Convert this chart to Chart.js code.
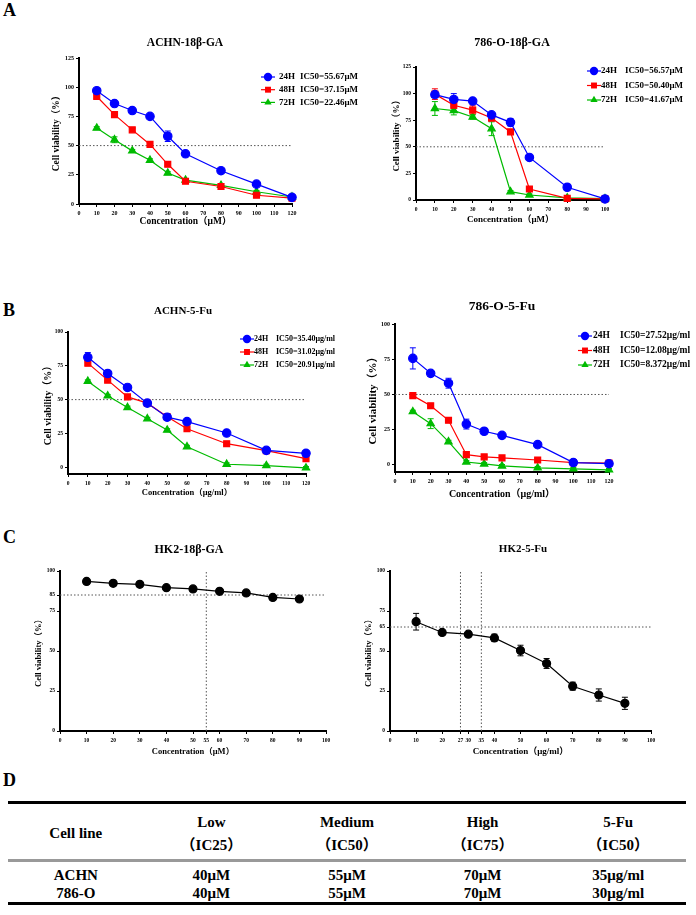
<!DOCTYPE html>
<html>
<head>
<meta charset="utf-8">
<script src="https://cdn.jsdelivr.net/npm/chart.js@4.4.1/dist/chart.umd.min.js"></script>
<style>
body { margin:0; background:#fff; width:696px; height:915px; position:relative; overflow:hidden;
       font-family:'Liberation Serif','Noto Sans CJK SC',serif; color:#000; }
canvas { position:absolute; }
.panel { position:absolute; font-weight:bold; font-size:18px; line-height:18px; }
.cell { position:absolute; width:200px; text-align:center; font-weight:bold; font-size:15px; line-height:20px; white-space:nowrap; }
.rule { position:absolute; left:8px; width:678px; }
</style>
</head>
<body>
<div class="panel" style="left:3px;top:1px">A</div>
<div class="panel" style="left:3px;top:301px">B</div>
<div class="panel" style="left:3px;top:528px">C</div>
<div class="panel" style="left:3px;top:771px">D</div>

<script>
var FONT = "'Liberation Serif','Noto Sans CJK SC',serif";

// series look
var hours = ['24H', '48H', '72H'];
var seriesColors = ['#0000FF', '#FF0000', '#00BB00'];
var seriesShapes = ['circle', 'rect', 'triangle'];

// A - 18β-GA, ACHN
var concAchnGA = [10, 20, 30, 40, 50, 60, 80, 100, 120];
var achnGA24 = [97, 86, 80, 75, 58, 43, 28.5, 17, 5.7];
var achnGA48 = [92, 76.5, 63.5, 51, 34, 19.5, 15, 7.5, 5];
var achnGA72 = [65, 55, 45.5, 37.5, 26.5, 20.5, 16, 10.5, 6];
var achnGA24sd = [1.5, 1.2, 1.2, 1.2, 4.5, 1, 1.8, 1, 0.8];
var achnGA48sd = [1.5, 1.2, 1.5, 1.5, 1.5, 1.5, 1.5, 1, 0.8];
var achnGA72sd = [1.2, 2.5, 1.2, 1.2, 1.2, 1, 1, 1, 0.8];
var achnGAic50 = ['55.67μM', '37.15μM', '22.46μM'];

// A - 18β-GA, 786-O
var conc786GA = [10, 20, 30, 40, 50, 60, 80, 100];
var o786GA24 = [99, 94.5, 93, 80, 73, 40, 12, 1];
var o786GA48 = [99.5, 89, 84.5, 77, 64, 10.3, 1.5, 1];
var o786GA72 = [86, 84, 78, 67, 7.8, 4.7, 2, 1.2];
var o786GA24sd = [2.5, 5.5, 1.2, 1.5, 3.5, 1, 1, 1];
var o786GA48sd = [5, 3, 4, 2, 1.5, 1.5, 1, 1];
var o786GA72sd = [6.5, 4, 2, 6.5, 1, 1, 1, 1];
var o786GAic50 = ['56.57μM', '50.40μM', '41.67μM'];

// B - 5-Fu, ACHN
var concAchnFu = [10, 20, 30, 40, 50, 60, 80, 100, 120];
var achnFu24 = [81.3, 69.3, 59, 47.4, 37, 33.7, 25.3, 12.5, 10.3];
var achnFu48 = [77, 64.4, 52, 47.4, 37.3, 28.5, 17.4, 12.3, 6.4];
var achnFu72 = [63.6, 52.8, 44.2, 35.9, 27.5, 15.2, 2.2, 1.2, -0.5];
var achnFu24sd = [3.5, 1.2, 1.2, 1, 1, 2, 1, 1, 1];
var achnFu48sd = [2, 1.2, 1.5, 1, 1, 1, 1, 1, 1];
var achnFu72sd = [1, 1, 1, 1, 1, 1, 1, 1, 1];
var achnFuic50 = ['35.40μg/ml', '31.02μg/ml', '20.91μg/ml'];

// B - 5-Fu, 786-O
var conc786Fu = [10, 20, 30, 40, 50, 60, 80, 100, 120];
var o786Fu24 = [75.6, 65, 58, 29, 23.9, 21, 14.4, 1.7, 0.9];
var o786Fu48 = [49.2, 42, 31.7, 7.3, 5.7, 5, 3.5, 1.7, 1.4];
var o786Fu72 = [37.8, 29.3, 16.5, 2.1, 0.7, -0.7, -2.1, -2.8, -3.5];
var o786Fu24sd = [7.5, 2, 3.5, 3.5, 1, 1, 1, 1, 1];
var o786Fu48sd = [1, 1, 1, 1, 1, 1, 1, 1, 1];
var o786Fu72sd = [1, 3.5, 1, 1, 1, 1, 1, 1, 1];
var o786Fuic50 = ['27.52μg/ml', '12.08μg/ml', '8.372μg/ml'];

// C - HK2
var concHK2 = [10, 20, 30, 40, 50, 60, 70, 80, 90];
var hk2GA = [93.5, 92.3, 91.7, 89.6, 88.8, 87.3, 86.3, 83.5, 82.5];
var hk2GAsd = [0.8, 0.8, 0.8, 0.8, 0.8, 0.8, 0.8, 0.8, 0.8];
var hk2Fu = [68.3, 61.6, 60.5, 58.2, 50.3, 42.2, 28, 22.5, 17.3];
var hk2Fusd = [5.2, 1, 1, 2.3, 3.3, 3.1, 2.5, 3.8, 3.8];

// tick labels
var ticks0to120 = [0, 10, 20, 30, 40, 50, 60, 70, 80, 90, 100, 110, 120];
var ticks0to100 = [0, 10, 20, 30, 40, 50, 60, 70, 80, 90, 100];
var ticksY125 = [0, 25, 50, 75, 100, 125];
var ticksY100 = [0, 25, 50, 75, 100];
var ticksXhk2GA = [0, 10, 20, 30, 40, 50, 55, 60, 70, 80, 90, 100];
var ticksYhk2GA = [0, 25, 50, 75, 85, 100];
var ticksXhk2Fu = [0, 10, 20, 27, 30, 35, 40, 50, 60, 70, 80, 90, 100];
var ticksYhk2Fu = [0, 25, 50, 65, 75, 100];

// table D
var tableHead = [['Cell line'], ['Low', '（IC25）'], ['Medium', '（IC50）'], ['High', '（IC75）'], ['5-Fu', '（IC50）']];
var cellLines = ['ACHN', '786-O'];
var lowDose = ['40μM', '40μM'];
var mediumDose = ['55μM', '55μM'];
var highDose = ['70μM', '70μM'];
var fuDose = ['35μg/ml', '30μg/ml'];

function drawMarker(ctx, shape, x, y, r, color) {
  ctx.fillStyle = color;
  ctx.beginPath();
  if (shape == 'rect') {
    var s = r * Math.SQRT1_2;
    ctx.rect(x - s, y - s, 2 * s, 2 * s);
  } else if (shape == 'triangle') {
    ctx.moveTo(x, y - r);
    ctx.lineTo(x + r * 0.866, y + r * 0.5);
    ctx.lineTo(x - r * 0.866, y + r * 0.5);
    ctx.closePath();
  } else {
    ctx.arc(x, y, r, 0, Math.PI * 2);
  }
  ctx.fill();
}

function series3(xs, ys, sds) {
  return ys.map(function (y, i) {
    return { label: hours[i], x: xs, y: y, sd: sds[i], color: seriesColors[i], shape: seriesShapes[i], r: 4.2 };
  });
}

function makePanel(p) {
  var box = p.box, area = p.area;
  var cv = document.createElement('canvas');
  cv.width = box.w; cv.height = box.h;
  cv.style.left = box.x + 'px'; cv.style.top = box.y + 'px';
  document.body.appendChild(cv);

  var ds = [];
  p.series.forEach(function (s) {
    ds.push({
      data: s.x.map(function (x, i) { return { x: x, y: s.y[i] }; }),
      borderColor: s.color, backgroundColor: s.color,
      pointBackgroundColor: s.color, pointBorderColor: s.color,
      pointStyle: s.shape, pointRadius: s.r, borderWidth: 1.2,
      fill: false, tension: 0, clip: false
    });
  });
  // dotted guide lines go last so they sit underneath
  p.guides.forEach(function (g) {
    ds.push({
      data: [{ x: g[0], y: g[1] }, { x: g[2], y: g[3] }],
      borderColor: '#555', borderWidth: 1, borderDash: [1.5, 2],
      pointRadius: 0, fill: false, clip: false
    });
  });

  var yLH = p.yTitleSize * 1.2, xLH = p.xTitleSize * 1.2;

  var deco = {
    id: 'deco',
    beforeDatasetsDraw: function (chart) {
      var ctx = chart.ctx, xs = chart.scales.x, ys = chart.scales.y;
      ctx.save();
      p.series.forEach(function (s) {
        ctx.strokeStyle = s.color; ctx.lineWidth = 1;
        s.x.forEach(function (xv, i) {
          var px = xs.getPixelForValue(xv);
          var t = ys.getPixelForValue(s.y[i] + s.sd[i]);
          var b = ys.getPixelForValue(s.y[i] - s.sd[i]);
          ctx.beginPath();
          ctx.moveTo(px, t); ctx.lineTo(px, b);
          ctx.moveTo(px - 3, t); ctx.lineTo(px + 3, t);
          ctx.moveTo(px - 3, b); ctx.lineTo(px + 3, b);
          ctx.stroke();
        });
      });
      ctx.restore();
    },
    afterDraw: function (chart) {
      var ctx = chart.ctx;
      ctx.save();
      ctx.fillStyle = '#000';
      ctx.font = 'bold ' + p.titleSize + 'px ' + FONT;
      ctx.textAlign = 'center'; ctx.textBaseline = 'middle';
      ctx.fillText(p.title, p.titleX - box.x, p.titleY - box.y);
      if (p.legend) {
        var L = p.legend;
        ctx.font = 'bold ' + L.size + 'px ' + FONT;
        ctx.textAlign = 'left';
        p.series.forEach(function (s, i) {
          var y = L.y + i * L.dy - box.y, mx = L.mx - box.x;
          ctx.strokeStyle = s.color; ctx.lineWidth = 1.2;
          ctx.beginPath(); ctx.moveTo(mx - 7, y); ctx.lineTo(mx + 7, y); ctx.stroke();
          drawMarker(ctx, s.shape, mx, y, s.r, s.color);
          ctx.fillStyle = '#000';
          ctx.fillText(s.label, L.tx - box.x, y);
          ctx.fillText('IC50=' + L.ic50[i], L.ix - box.x, y);
        });
      }
      ctx.restore();
    }
  };

  function axis(min, max, ticks, size, titleText, titleSize, titlePad, isX) {
    return {
      type: 'linear', min: min, max: max,
      afterBuildTicks: function (s) { s.ticks = ticks.map(function (v) { return { value: v }; }); },
      afterFit: function (s) {
        if (isX) s.height = box.y + box.h - area.b;
        else s.width = area.l - box.x;
      },
      ticks: { autoSkip: false, maxRotation: 0, color: '#000', padding: isX ? 3 : 2,
               font: { family: FONT, size: size, weight: 'bold' } },
      grid: { drawOnChartArea: false, drawTicks: true, tickLength: 3, color: '#000', lineWidth: 1 },
      border: { display: true, color: '#000', width: 2 },
      title: { display: true, text: titleText, color: '#000',
               font: { family: FONT, size: titleSize, weight: 'bold' },
               padding: isX ? { top: 0, bottom: titlePad } : { top: titlePad, bottom: 0 } }
    };
  }

  new Chart(cv, {
    type: 'line',
    data: { datasets: ds },
    options: {
      responsive: false, animation: false, events: [],
      layout: { padding: { left: 0, top: area.t - box.y, right: box.x + box.w - area.r, bottom: 0 } },
      plugins: { legend: { display: false }, tooltip: { enabled: false }, title: { display: false } },
      scales: {
        x: axis(p.xMin, p.xMax, p.xTicks, p.tickSize, p.xTitle, p.xTitleSize,
                box.y + box.h - p.xTitleY - xLH / 2, true),
        y: axis(p.yMin, p.yMax, p.yTicks, p.tickSize, 'Cell viability（%）', p.yTitleSize,
                p.yTitleX - box.x - yLH / 2, false)
      }
    },
    plugins: [deco]
  });
}

makePanel({
  box: { x: 0, y: 30, w: 365, h: 205 }, area: { l: 79, r: 292, t: 58, b: 204 },
  title: 'ACHN-18β-GA', titleX: 185, titleY: 43, titleSize: 11.5,
  xMin: 0, xMax: 120, xTicks: ticks0to120, yMin: 0, yMax: 125, yTicks: ticksY125, tickSize: 6,
  xTitle: 'Concentration（μM）', xTitleSize: 9.5, xTitleY: 222, yTitleSize: 9.5, yTitleX: 57,
  series: series3(concAchnGA, [achnGA24, achnGA48, achnGA72], [achnGA24sd, achnGA48sd, achnGA72sd]),
  guides: [[0, 50, 120, 50]],
  legend: { mx: 268, tx: 279, ix: 300, y: 77, dy: 12.7, size: 9, ic50: achnGAic50 }
});

makePanel({
  box: { x: 348, y: 30, w: 348, h: 200 }, area: { l: 416, r: 605, t: 67, b: 200 },
  title: '786-O-18β-GA', titleX: 512, titleY: 43, titleSize: 12,
  xMin: 0, xMax: 100, xTicks: ticks0to100, yMin: 0, yMax: 125, yTicks: ticksY125, tickSize: 5.5,
  xTitle: 'Concentration（μM）', xTitleSize: 9, xTitleY: 220, yTitleSize: 9, yTitleX: 397,
  series: series3(conc786GA, [o786GA24, o786GA48, o786GA72], [o786GA24sd, o786GA48sd, o786GA72sd]),
  guides: [[0, 50, 100, 50]],
  legend: { mx: 594, tx: 601, ix: 625, y: 71, dy: 14.5, size: 9, ic50: o786GAic50 }
});

makePanel({
  box: { x: 0, y: 295, w: 348, h: 205 }, area: { l: 68, r: 306, t: 332, b: 474 },
  title: 'ACHN-5-Fu', titleX: 183, titleY: 311, titleSize: 11,
  xMin: 0, xMax: 120, xTicks: ticks0to120, yMin: -5, yMax: 100, yTicks: ticksY100, tickSize: 5.5,
  xTitle: 'Concentration（μg/ml）', xTitleSize: 8.5, xTitleY: 493, yTitleSize: 10, yTitleX: 48,
  series: series3(concAchnFu, [achnFu24, achnFu48, achnFu72], [achnFu24sd, achnFu48sd, achnFu72sd]),
  guides: [[0, 50, 120, 50]],
  legend: { mx: 247, tx: 254, ix: 276, y: 339, dy: 13, size: 8, ic50: achnFuic50 }
});

makePanel({
  box: { x: 348, y: 290, w: 348, h: 210 }, area: { l: 395, r: 609, t: 324, b: 472 },
  title: '786-O-5-Fu', titleX: 502, titleY: 307, titleSize: 13.5,
  xMin: 0, xMax: 120, xTicks: ticks0to120, yMin: -5, yMax: 100, yTicks: ticksY100, tickSize: 6,
  xTitle: 'Concentration（μg/ml）', xTitleSize: 10, xTitleY: 494, yTitleSize: 11, yTitleX: 373,
  series: series3(conc786Fu, [o786Fu24, o786Fu48, o786Fu72], [o786Fu24sd, o786Fu48sd, o786Fu72sd]),
  guides: [[0, 50, 120, 50]],
  legend: { mx: 585, tx: 593, ix: 620, y: 336, dy: 14.5, size: 9.5, ic50: o786Fuic50 }
});

makePanel({
  box: { x: 0, y: 535, w: 348, h: 225 }, area: { l: 60, r: 326, t: 571, b: 731 },
  title: 'HK2-18β-GA', titleX: 189, titleY: 550, titleSize: 12,
  xMin: 0, xMax: 100, xTicks: ticksXhk2GA, yMin: 0, yMax: 100, yTicks: ticksYhk2GA, tickSize: 5.5,
  xTitle: 'Concentration（μM）', xTitleSize: 8.5, xTitleY: 752, yTitleSize: 8.5, yTitleX: 39,
  series: [{ label: '', x: concHK2, y: hk2GA, sd: hk2GAsd, color: '#000', shape: 'circle', r: 4 }],
  guides: [[0, 85, 100, 85], [55, 0, 55, 100]],
  legend: null
});

makePanel({
  box: { x: 348, y: 535, w: 348, h: 225 }, area: { l: 390, r: 651, t: 571, b: 731 },
  title: 'HK2-5-Fu', titleX: 523, titleY: 549, titleSize: 11,
  xMin: 0, xMax: 100, xTicks: ticksXhk2Fu, yMin: 0, yMax: 100, yTicks: ticksYhk2Fu, tickSize: 5.5,
  xTitle: 'Concentration（μg/ml）', xTitleSize: 9, xTitleY: 752, yTitleSize: 8.5, yTitleX: 369,
  series: [{ label: '', x: concHK2, y: hk2Fu, sd: hk2Fusd, color: '#000', shape: 'circle', r: 4 }],
  guides: [[0, 65, 100, 65], [27, 0, 27, 100], [35, 0, 35, 100]],
  legend: null
});

// table D
(function () {
  var left = 8, colW = 135.6;
  function addCell(text, cx, cy) {
    var d = document.createElement('div');
    d.className = 'cell';
    d.textContent = text;
    d.style.left = (cx - 100) + 'px';
    d.style.top = (cy - 10) + 'px';
    document.body.appendChild(d);
  }
  function addRule(top, h, color) {
    var d = document.createElement('div');
    d.className = 'rule';
    d.style.top = top + 'px'; d.style.height = h + 'px'; d.style.background = color;
    document.body.appendChild(d);
  }
  addRule(801, 3, '#000');
  addRule(859, 2.5, '#999');
  addRule(902, 3, '#000');
  tableHead.forEach(function (h, c) {
    var cx = left + colW * (c + 0.5);
    if (h.length == 1) addCell(h[0], cx, 833);
    else { addCell(h[0], cx, 822); addCell(h[1], cx, 845); }
  });
  var cols = [cellLines, lowDose, mediumDose, highDose, fuDose];
  cols.forEach(function (col, c) {
    var cx = left + colW * (c + 0.5);
    col.forEach(function (v, r) { addCell(v, cx, 875 + r * 17.5); });
  });
})();
</script>
</body>
</html>
